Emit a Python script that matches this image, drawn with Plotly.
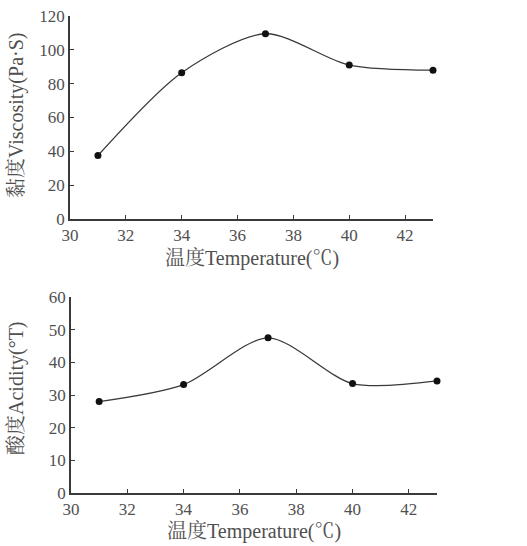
import plotly.graph_objects as go

temperature = [31, 34, 37, 40, 43]
viscosity = [37.5, 86.5, 109.5, 91, 88]
acidity = [28, 33.2, 47.5, 33.5, 34.3]

x_ticks = [30, 32, 34, 36, 38, 40, 42]
visc_ticks = [0, 20, 40, 60, 80, 100, 120]
acid_ticks = [0, 10, 20, 30, 40, 50, 60]

W, H = 527, 546


def px_x(v):
    return v / W


def px_y(v):
    return 1 - v / H


font_family = "'Liberation Serif', 'Times New Roman', 'Noto Serif CJK SC', 'Noto Sans CJK SC', serif"
txt_col = "#505050"
line_col = "#3a3a3a"

fig = go.Figure()
fig.add_trace(go.Scatter(x=temperature, y=viscosity, mode="lines+markers",
                         line=dict(color=line_col, width=1.3, shape="spline", smoothing=0.8),
                         marker=dict(color="#111111", size=7),
                         xaxis="x", yaxis="y", showlegend=False, cliponaxis=False))
fig.add_trace(go.Scatter(x=temperature, y=acidity, mode="lines+markers",
                         line=dict(color=line_col, width=1.3, shape="spline", smoothing=0.8),
                         marker=dict(color="#111111", size=7),
                         xaxis="x2", yaxis="y2", showlegend=False, cliponaxis=False))

axis_common = dict(showline=True, linecolor=line_col, linewidth=1.5, ticks="inside",
                   ticklen=4, tickcolor=line_col, showgrid=False, zeroline=False,
                   automargin=False, ticklabeloverflow="allow",
                   tickfont=dict(family=font_family, size=17, color=txt_col))

fig.update_layout(
    width=W, height=H,
    margin=dict(l=0, r=0, t=0, b=0, pad=0, autoexpand=False),
    paper_bgcolor="white", plot_bgcolor="white",
    font=dict(family=font_family, color=txt_col),
    xaxis=dict(domain=[px_x(70), px_x(433)], range=[30, 43], tickvals=x_ticks,
               anchor="y", **axis_common),
    yaxis=dict(domain=[px_y(219), px_y(16)], range=[0, 120], tickvals=visc_ticks,
               anchor="x", **axis_common),
    xaxis2=dict(domain=[px_x(71), px_x(437)], range=[30, 43], tickvals=x_ticks,
                anchor="y2", **axis_common),
    yaxis2=dict(domain=[px_y(493), px_y(297)], range=[0, 60], tickvals=acid_ticks,
                anchor="x2", **axis_common),
)

title_font = dict(family=font_family, size=20, color=txt_col)
fig.add_annotation(text="温度Temperature(℃)", x=px_x(252), y=px_y(258),
                   xref="paper", yref="paper", showarrow=False, font=title_font,
                   xanchor="center", yanchor="middle")
fig.add_annotation(text="温度Temperature(℃)", x=px_x(254), y=px_y(531),
                   xref="paper", yref="paper", showarrow=False, font=title_font,
                   xanchor="center", yanchor="middle")
fig.add_annotation(text="黏度Viscosity(Pa·S)", x=px_x(16), y=px_y(116),
                   xref="paper", yref="paper", showarrow=False, font=title_font,
                   textangle=-90, xanchor="center", yanchor="middle")
fig.add_annotation(text="酸度Acidity(°T)", x=px_x(16), y=px_y(388),
                   xref="paper", yref="paper", showarrow=False, font=title_font,
                   textangle=-90, xanchor="center", yanchor="middle")

fig.write_html("out.html", config={"displayModeBar": False},
               post_script="document.body.style.margin='0';document.body.style.overflow='hidden';")
